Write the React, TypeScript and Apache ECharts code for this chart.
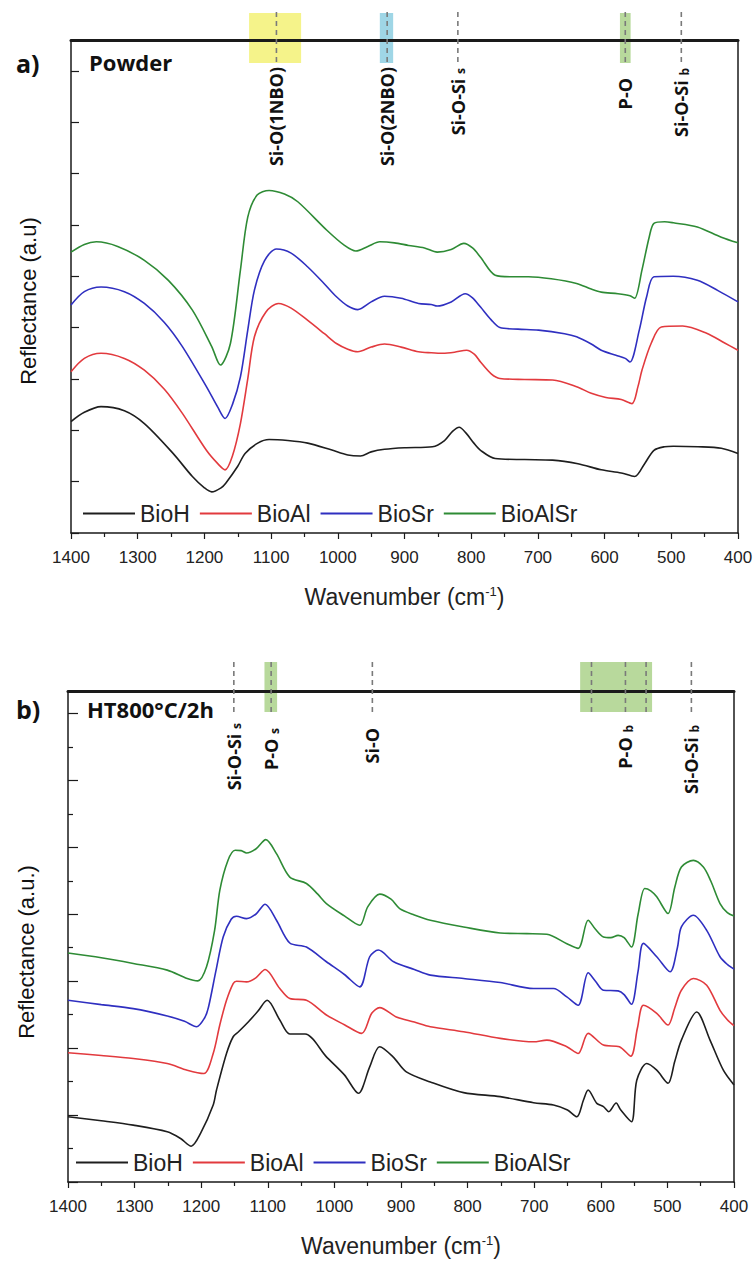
import React, { useEffect, useRef } from 'react';
import * as echarts from 'echarts';

// ---------- data ----------
const SERIES_NAMES = ['BioH', 'BioAl', 'BioSr', 'BioAlSr'];

const X_MIN = 400;
const X_MAX = 1400;
const X_STEP = 100;
const POWDER_Y_MAX = 9.6;
const HT_Y_MAX = 14.67;
const HT_MINOR_TICKS = [1, 3, 5, 7, 9, 11, 13];

// a) Powder
const powderBioH: number[][] = [
  [1400, 2.17], [1380, 2.35], [1355, 2.46], [1320, 2.38], [1290, 2.13], [1247, 1.55], [1218, 1.1],
  [1200, 0.88], [1189, 0.8], [1175, 0.88], [1168, 0.97], [1150, 1.3], [1139, 1.55], [1120, 1.75],
  [1103, 1.82], [1075, 1.8], [1045, 1.75], [1010, 1.62], [985, 1.52], [966, 1.5], [950, 1.58],
  [930, 1.63], [900, 1.66], [858, 1.68], [840, 1.8], [828, 1.98], [818, 2.06], [808, 1.95],
  [796, 1.75], [786, 1.61], [764, 1.45], [720, 1.43], [678, 1.42], [640, 1.35], [605, 1.23],
  [575, 1.17], [555, 1.1], [540, 1.35], [526, 1.61], [510, 1.68], [497, 1.69], [460, 1.68],
  [425, 1.65], [400, 1.55],
];
const powderBioAl: number[][] = [
  [1400, 3.14], [1380, 3.4], [1355, 3.5], [1320, 3.4], [1290, 3.17], [1260, 2.8], [1233, 2.33],
  [1197, 1.61], [1180, 1.35], [1169, 1.23], [1158, 1.5], [1146, 2.13], [1135, 3.0], [1125, 3.82],
  [1108, 4.3], [1089, 4.47], [1070, 4.38], [1045, 4.14], [1020, 3.88], [1002, 3.69], [985, 3.58],
  [970, 3.53], [950, 3.62], [930, 3.68], [905, 3.62], [879, 3.53], [860, 3.51], [843, 3.5],
  [825, 3.52], [807, 3.56], [795, 3.48], [786, 3.33], [770, 3.1], [757, 3.01], [720, 2.99],
  [678, 2.98], [642, 2.85], [620, 2.72], [598, 2.64], [575, 2.6], [559, 2.52], [550, 2.85],
  [544, 3.17], [530, 3.7], [515, 4.01], [483, 4.03], [447, 3.89], [420, 3.7], [400, 3.56],
];
const powderBioSr: number[][] = [
  [1400, 4.44], [1380, 4.7], [1355, 4.79], [1320, 4.7], [1290, 4.47], [1260, 4.1], [1233, 3.63],
  [1197, 2.85], [1180, 2.45], [1169, 2.23], [1158, 2.5], [1146, 3.04], [1135, 3.95], [1125, 4.73],
  [1110, 5.3], [1092, 5.53], [1070, 5.45], [1045, 5.18], [1020, 4.85], [1002, 4.6], [985, 4.42],
  [970, 4.35], [950, 4.5], [930, 4.61], [905, 4.57], [879, 4.47], [860, 4.45], [851, 4.42],
  [830, 4.5], [809, 4.66], [798, 4.58], [786, 4.4], [770, 4.15], [757, 4.0], [730, 3.97],
  [699, 3.95], [660, 3.88], [642, 3.82], [620, 3.68], [605, 3.56], [583, 3.46], [569, 3.4],
  [562, 3.33], [548, 3.95], [537, 4.6], [526, 4.99], [497, 5.0], [461, 4.92], [430, 4.72],
  [400, 4.5],
];
const powderBioAlSr: number[][] = [
  [1400, 5.47], [1380, 5.62], [1362, 5.67], [1330, 5.58], [1290, 5.31], [1254, 4.92], [1218, 4.34],
  [1189, 3.63], [1176, 3.27], [1161, 3.69], [1146, 5.12], [1135, 6.15], [1121, 6.58], [1103, 6.67],
  [1080, 6.6], [1060, 6.45], [1016, 5.89], [990, 5.6], [973, 5.49], [955, 5.58], [937, 5.67],
  [915, 5.65], [894, 5.6], [870, 5.55], [851, 5.47], [830, 5.52], [811, 5.64], [798, 5.55],
  [786, 5.37], [764, 5.02], [740, 4.99], [714, 4.99], [680, 4.95], [642, 4.86], [620, 4.75],
  [605, 4.69], [580, 4.66], [562, 4.62], [555, 4.57], [544, 5.12], [533, 5.77], [526, 6.03],
  [510, 6.06], [497, 6.04], [461, 5.96], [425, 5.76], [400, 5.65],
];

// b) HT800°C/2h
const htBioH: number[][] = [
  [1400, 1.95], [1350, 1.83], [1302, 1.7], [1251, 1.5], [1231, 1.3], [1215, 1.07], [1201, 1.45],
  [1182, 2.3], [1177, 2.75], [1162, 3.84], [1152, 4.34], [1144, 4.49], [1129, 4.79], [1115, 5.1],
  [1101, 5.43], [1082, 4.84], [1067, 4.42], [1044, 4.42], [1012, 3.74], [985, 3.2], [964, 2.65],
  [947, 3.44], [932, 4.04], [912, 3.74], [892, 3.29], [856, 2.99], [806, 2.67], [751, 2.55],
  [701, 2.37], [671, 2.3], [650, 2.15], [636, 1.95], [626, 2.45], [619, 2.75], [606, 2.35],
  [596, 2.25], [588, 2.1], [577, 2.36], [570, 2.15], [554, 1.8], [546, 3.04], [531, 3.54],
  [516, 3.34], [499, 2.95], [489, 3.6], [479, 4.24], [456, 5.08], [436, 4.24], [416, 3.34],
  [400, 2.9],
];
const htBioAl: number[][] = [
  [1400, 3.86], [1350, 3.78], [1302, 3.69], [1251, 3.54], [1221, 3.34], [1196, 3.24], [1182, 3.84],
  [1172, 4.7], [1162, 5.43], [1152, 5.93], [1147, 6.0], [1132, 5.98], [1118, 6.1], [1104, 6.35],
  [1082, 5.78], [1067, 5.48], [1042, 5.43], [1012, 4.99], [985, 4.7], [959, 4.44], [944, 5.04],
  [932, 5.21], [907, 4.93], [880, 4.78], [856, 4.64], [806, 4.49], [751, 4.29], [701, 4.19],
  [681, 4.24], [651, 4.04], [634, 3.84], [619, 4.44], [596, 4.09], [572, 4.04], [555, 3.76],
  [545, 4.6], [536, 5.28], [516, 5.04], [499, 4.69], [489, 5.2], [479, 5.73], [461, 6.08],
  [441, 5.88], [421, 5.13], [410, 4.85], [400, 4.67],
];
const htBioSr: number[][] = [
  [1400, 5.43], [1350, 5.3], [1302, 5.18], [1251, 4.96], [1225, 4.8], [1207, 4.64], [1195, 4.9],
  [1189, 5.23], [1178, 6.3], [1167, 7.32], [1155, 7.85], [1147, 7.94], [1132, 7.87], [1118, 8.0],
  [1104, 8.3], [1087, 7.82], [1067, 7.14], [1042, 7.02], [1012, 6.58], [985, 6.2], [962, 5.83],
  [947, 6.73], [934, 6.93], [911, 6.58], [880, 6.35], [856, 6.18], [806, 6.08], [751, 5.96],
  [701, 5.78], [671, 5.78], [651, 5.53], [634, 5.28], [619, 6.25], [608, 6.0], [596, 5.73],
  [574, 5.71], [565, 5.6], [554, 5.31], [544, 6.3], [536, 7.13], [516, 6.73], [496, 6.28],
  [485, 7.0], [479, 7.62], [461, 7.97], [441, 7.52], [421, 6.73], [410, 6.5], [400, 6.36],
];
const htBioAlSr: number[][] = [
  [1400, 6.84], [1350, 6.7], [1302, 6.53], [1251, 6.33], [1221, 6.08], [1205, 6.01], [1192, 6.43],
  [1180, 7.5], [1172, 8.72], [1160, 9.6], [1149, 9.91], [1140, 9.9], [1132, 9.83], [1118, 9.95],
  [1103, 10.23], [1087, 9.81], [1067, 9.11], [1042, 8.92], [1025, 8.6], [1012, 8.32], [985, 7.95],
  [962, 7.67], [950, 8.22], [932, 8.6], [915, 8.45], [902, 8.17], [880, 7.98], [856, 7.82],
  [806, 7.62], [751, 7.44], [711, 7.42], [681, 7.4], [651, 7.12], [634, 6.98], [619, 7.82],
  [608, 7.55], [596, 7.32], [585, 7.3], [574, 7.37], [565, 7.3], [554, 7.02], [544, 8.0],
  [534, 8.77], [525, 8.7], [516, 8.52], [499, 8.02], [489, 8.8], [479, 9.41], [461, 9.61],
  [446, 9.41], [435, 9.0], [421, 8.32], [410, 8.05], [400, 7.95],
];

// band annotations (wavenumbers)
const powderBandLabels = ['Si-O(1NBO)', 'Si-O(2NBO)', 'Si-O-Si {sub|s}', 'P-O', 'Si-O-Si {sub|b}'];
const powderBandCenters = [1092, 926, 820, 569, 485];
const powderBandRanges = [[1133, 1055], [937, 917], [577, 561]];

const htBandLabels = ['Si-O-Si {sub|s}', 'P-O {sub|s}', 'Si-O', 'P-O {sub|b}', 'Si-O-Si {sub|b}'];
const htLabelCenters = [1151, 1095, 943, 563, 464];
const htBandLines = [1151, 1095, 943, 614, 563, 532, 464];
const htBandRanges = [[1105, 1086], [631, 523]];

// ---------- styles ----------
const COLORS = ['#1e1e1e', '#e23a3e', '#2f2fc0', '#2e8b35'];
const AXIS_COLOR = '#1a1a1a';
const SANS = "'Liberation Sans', Arial, sans-serif";
const NARROW = "'Liberation Sans Narrow', 'Arial Narrow', 'Liberation Sans', Arial, sans-serif";
const BOLD = "'Open Sans', 'Liberation Sans', Arial, sans-serif";
const powderBandColors = ['#f5f38a', '#9fd6e6', '#b8d99c'];
const htBandColors = ['#b8d99c', '#b8d99c'];
const powderLabelTops = [67, 67, 68, 78, 68];
const htLabelTops = [723, 728, 728, 725, 725];

export default function App() {
  const ref = useRef<HTMLDivElement>(null);

  useEffect(() => {
    document.body.style.margin = '0';
    const chart = echarts.init(ref.current as HTMLDivElement, null, { renderer: 'svg' });

    const lineStyle = { color: AXIS_COLOR, width: 1.5 };

    const bottomX = (gridIndex: number) => ({
      type: 'value',
      gridIndex,
      min: X_MIN,
      max: X_MAX,
      interval: X_STEP,
      inverse: true,
      position: 'bottom',
      axisLine: { show: true, onZero: false, lineStyle },
      axisTick: { show: true, inside: false, length: 6, lineStyle: { color: AXIS_COLOR, width: 1.2 } },
      minorTick: { show: true, splitNumber: 2, length: 4, lineStyle: { color: AXIS_COLOR, width: 1.2 } },
      axisLabel: {
        show: true,
        margin: 16,
        fontSize: 17,
        color: '#222',
        fontFamily: NARROW,
        showMinLabel: true,
        showMaxLabel: true,
        formatter: (v: number) => String(Math.round(v)),
      },
      splitLine: { show: false },
      minorSplitLine: { show: false },
      name: 'Wavenumber (cm{sup|-1})',
      nameLocation: 'middle',
      nameGap: 52,
      nameTextStyle: {
        fontSize: 23,
        color: '#222',
        fontFamily: NARROW,
        rich: { sup: { fontSize: 13, verticalAlign: 'top', color: '#222', fontFamily: NARROW } },
      },
    });
    const topX = (gridIndex: number) => ({
      type: 'value',
      gridIndex,
      min: X_MIN,
      max: X_MAX,
      inverse: true,
      position: 'top',
      axisLine: { show: true, onZero: false, lineStyle: { color: AXIS_COLOR, width: 3 } },
      axisTick: { show: false },
      axisLabel: { show: false },
      splitLine: { show: false },
    });
    const leftY = (gridIndex: number, max: number, interval: number, tickLen: number) => ({
      type: 'value',
      gridIndex,
      min: 0,
      max,
      interval,
      position: 'left',
      axisLine: { show: true, onZero: false, lineStyle },
      axisTick: { show: true, inside: true, length: tickLen, lineStyle: { color: AXIS_COLOR, width: 1.2 } },
      axisLabel: { show: false },
      splitLine: { show: false },
    });
    const rightY = (gridIndex: number, max: number) => ({
      type: 'value',
      gridIndex,
      min: 0,
      max,
      position: 'right',
      axisLine: { show: true, onZero: false, lineStyle },
      axisTick: { show: false },
      axisLabel: { show: false },
      splitLine: { show: false },
    });

    const powderData = [powderBioH, powderBioAl, powderBioSr, powderBioAlSr];
    const htData = [htBioH, htBioAl, htBioSr, htBioAlSr];

    const series: any[] = [];
    powderData.forEach((d, i) =>
      series.push({
        type: 'line',
        name: SERIES_NAMES[i],
        data: d,
        xAxisIndex: 0,
        yAxisIndex: 0,
        symbol: 'none',
        smooth: 0.3,
        lineStyle: { color: COLORS[i], width: 1.6 },
        itemStyle: { color: COLORS[i] },
      })
    );
    htData.forEach((d, i) =>
      series.push({
        type: 'line',
        name: SERIES_NAMES[i],
        data: d,
        xAxisIndex: 2,
        yAxisIndex: 2,
        symbol: 'none',
        smooth: 0.3,
        lineStyle: { color: COLORS[i], width: 1.6 },
        itemStyle: { color: COLORS[i] },
      })
    );

    const legendBase = {
      data: SERIES_NAMES,
      orient: 'horizontal',
      icon: 'rect',
      itemWidth: 52,
      itemHeight: 2,
      itemGap: 10,
      padding: 0,
      selectedMode: false,
      textStyle: { fontSize: 23, color: '#222', fontFamily: SANS },
    };

    chart.setOption({
      animation: false,
      backgroundColor: '#ffffff',
      grid: [
        { left: 71, top: 40, width: 667, height: 493, containLabel: false, outerBoundsMode: 'none' },
        { left: 68, top: 691, width: 666, height: 491, containLabel: false, outerBoundsMode: 'none' },
      ],
      xAxis: [bottomX(0), topX(0), bottomX(1), topX(1)],
      yAxis: [
        leftY(0, POWDER_Y_MAX, 1, 8),
        rightY(0, POWDER_Y_MAX),
        leftY(1, HT_Y_MAX, 2, 10),
        rightY(1, HT_Y_MAX),
        {
          type: 'value',
          gridIndex: 1,
          min: 0,
          max: HT_Y_MAX,
          position: 'left',
          axisLine: { show: false, onZero: false },
          axisTick: {
            show: true,
            inside: true,
            length: 5,
            customValues: HT_MINOR_TICKS,
            lineStyle: { color: AXIS_COLOR, width: 1.2 },
          },
          axisLabel: { show: false },
          splitLine: { show: false },
        },
      ],
      legend: [
        { ...legendBase, left: 83, top: 502 },
        { ...legendBase, left: 76, top: 1151 },
      ],
      series,
    });

    const px0 = (v: number) => chart.convertToPixel({ xAxisIndex: 0 }, v) as number;
    const px2 = (v: number) => chart.convertToPixel({ xAxisIndex: 2 }, v) as number;

    const graphics: any[] = [];
    const labelStyle = (text: string) => ({
      text,
      fontSize: 18,
      fontWeight: 'bold',
      fontFamily: BOLD,
      fill: '#111',
      align: 'right',
      verticalAlign: 'middle',
      rich: {
        sub: { fontSize: 12, fontWeight: 'bold', fontFamily: BOLD, fill: '#111', verticalAlign: 'bottom' },
      },
    });
    const dash = (x: number, y1: number, y2: number) => ({
      type: 'line',
      z: 5,
      shape: { x1: x, y1, x2: x, y2 },
      style: { stroke: '#7a7a7a', lineWidth: 1.6, lineDash: [5, 4] },
    });

    // powder bands
    powderBandRanges.forEach((r, i) => {
      const a = px0(r[0]);
      const b = px0(r[1]);
      graphics.push({
        type: 'rect',
        z: -1,
        shape: { x: Math.min(a, b), y: 13, width: Math.abs(b - a), height: 50 },
        style: { fill: powderBandColors[i] },
      });
    });
    powderBandCenters.forEach((c, i) => {
      const x = px0(c);
      graphics.push(dash(x, 12, 63));
      graphics.push({
        type: 'text',
        z: 5,
        x,
        y: powderLabelTops[i],
        rotation: Math.PI / 2,
        style: labelStyle(powderBandLabels[i]),
      });
    });

    // HT bands
    htBandRanges.forEach((r, i) => {
      const a = px2(r[0]);
      const b = px2(r[1]);
      graphics.push({
        type: 'rect',
        z: -1,
        shape: { x: Math.min(a, b), y: 662, width: Math.abs(b - a), height: 50 },
        style: { fill: htBandColors[i] },
      });
    });
    htBandLines.forEach((c) => graphics.push(dash(px2(c), 662, 712)));
    htLabelCenters.forEach((c, i) => {
      graphics.push({
        type: 'text',
        z: 5,
        x: px2(c),
        y: htLabelTops[i],
        rotation: Math.PI / 2,
        style: labelStyle(htBandLabels[i]),
      });
    });

    // panel labels and titles
    const plain = (text: string, x: number, y: number, size: number, bold: boolean, extra: any = {}) => ({
      type: 'text',
      z: 5,
      x,
      y,
      ...extra,
      style: {
        text,
        fontSize: size,
        fontWeight: bold ? 'bold' : 'normal',
        fontFamily: bold ? BOLD : SANS,
        fill: '#111',
        align: extra.rotation ? 'center' : 'left',
        verticalAlign: 'middle',
      },
    });
    graphics.push(plain('a)', 16, 63, 25, true));
    graphics.push(plain('Powder', 89, 62, 22, true));
    graphics.push(plain('b)', 16, 709, 25, true));
    graphics.push(plain('HT800°C/2h', 87, 709, 22, true));
    graphics.push(plain('Reflectance (a.u)', 28, 301, 22, false, { rotation: Math.PI / 2 }));
    graphics.push(plain('Reflectance (a.u.)', 26, 952, 22, false, { rotation: Math.PI / 2 }));

    chart.setOption({ graphic: graphics });

    return () => chart.dispose();
  }, []);

  return <div ref={ref} style={{ width: 755, height: 1263 }} />;
}
